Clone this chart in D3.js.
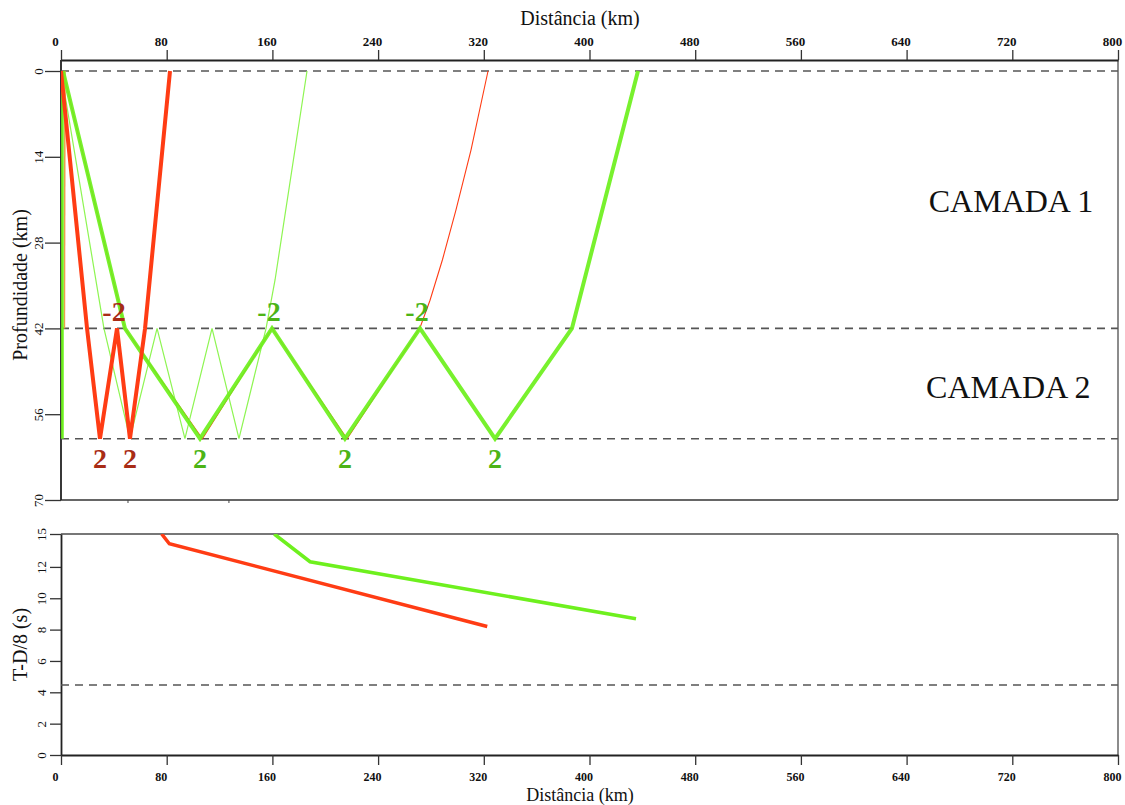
<!DOCTYPE html>
<html>
<head>
<meta charset="utf-8">
<script src="https://cdn.jsdelivr.net/npm/d3@7"></script>
<style>
  body { margin: 0; background: #fff; }
  svg { display: block; font-family: "Liberation Serif", "Times New Roman", serif; }
</style>
</head>
<body>
<svg id="chart" width="1125" height="805"></svg>
<script>
// ---- data -------------------------------------------------------------
const distanceTicks = [0, 80, 160, 240, 320, 400, 480, 560, 640, 720, 800];
const depthTicks = [0, 14, 28, 42, 56, 70];
const timeTicks = [0, 2, 4, 6, 8, 10, 12];
const timeTopLabel = "15";
const timeTop = 14.1;

const interfaceDepths = [0, 42, 60];   // surface, interface, Moho (km)
const referenceTime = 4.47;            // reference line in the T-D/8 panel (s)

const layerNames = ["CAMADA 1", "CAMADA 2"];
const layerLabelX = [719, 717];
const layerLabelDepth = [23.0, 53.4];

// ray paths: [distance km, depth km]
const rayRedThick = [[0, 0], [19.7, 42], [29.5, 60], [42.4, 42], [52.2, 60], [63.6, 42], [82.5, 0]];
const rayGreenThick = [[1.5, 0], [48.4, 42], [105.2, 60], [159.7, 42], [214.9, 60], [271.7, 42], [328.5, 60], [386.7, 42], [436.7, 0]];
const rayGreenThin = [[0, 0], [32.5, 42], [52.2, 60], [72.7, 42], [93.8, 60], [114.3, 42], [134.7, 60], [155.2, 42], [162.0, 34.1], [186.2, 0]];
const rayRedThin = [[1.5, 0], [48.4, 42], [107.0, 60], [159.7, 42], [216.5, 60], [271.5, 42],
  [279.3, 37.4], [288.7, 30.8], [298.9, 22.7], [310.3, 12.9], [323.2, 0]];
const rayGreenVertical = [[1.1, 0], [1.1, 60]];
const rayOrangeVertical = [[3.0, 0], [2.6, 42]];

// phase labels on the reflection points
const phaseLabelX = [42.4, 29.5, 52.2, 105.2, 214.9, 328.5, 159.7, 271.7];
const phaseLabelDepth = [42, 60, 60, 60, 60, 60, 42, 42];
const phaseLabelText = ["-2", "2", "2", "2", "2", "2", "-2", "-2"];
const phaseLabelSeries = ["red", "red", "red", "green", "green", "green", "green", "green"];

// reduced travel times: [distance km, T-D/8 s]
const timeRed = [[76.2, 14.1], [82.0, 13.48], [322.6, 8.2]];
const timeGreen = [[161.4, 14.1], [188.5, 12.33], [435.2, 8.69]];

// short marks on the base line of the depth panel (km)
const baseMarks = [50.7, 127.1];

// ---- styles -----------------------------------------------------------
const colRed = "#ff3c14";
const colGreen = "#6ef01e";
const colGreenThin = "#8ef552";
const colOrange = "#eaa04a";
const labelColor = { red: "#a82c16", green: "#4cb416" };

// ---- layout & scales --------------------------------------------------
const left = 61, right = 1118;
const topA = 60, bottomA = 500;   // depth panel
const topB = 534, bottomB = 755;  // time panel

const svg = d3.select("#chart");
const x = d3.scaleLinear().domain([0, 800]).range([left, right]);
const yD = d3.scaleLinear().domain([0, 70]).range([71, bottomA]);
const yT = d3.scaleLinear().domain([0, timeTop]).range([bottomB, topB]);

const defs = svg.append("defs");
defs.append("clipPath").attr("id", "clipA")
  .append("rect").attr("x", left).attr("y", topA).attr("width", right - left).attr("height", bottomA - topA);
defs.append("clipPath").attr("id", "clipB")
  .append("rect").attr("x", left).attr("y", topB).attr("width", right - left).attr("height", bottomB - topB);

// ---- depth panel ------------------------------------------------------
svg.append("line").attr("x1", right).attr("x2", right).attr("y1", topA).attr("y2", bottomA)
  .attr("stroke", "#666").attr("stroke-width", 1.5);
svg.append("line").attr("x1", left).attr("x2", right).attr("y1", bottomA).attr("y2", bottomA)
  .attr("stroke", "#333").attr("stroke-width", 1.5);
svg.append("line").attr("x1", left).attr("x2", left).attr("y1", topA).attr("y2", bottomA)
  .attr("stroke", "#222").attr("stroke-width", 1.8);
svg.selectAll(".baseMark").data(baseMarks).join("line")
  .attr("x1", d => x(d)).attr("x2", d => x(d)).attr("y1", bottomA).attr("y2", bottomA + 3)
  .attr("stroke", "#444").attr("stroke-width", 1);

// top distance axis
const axTop = svg.append("g").attr("transform", `translate(0,${topA})`)
  .call(d3.axisTop(x).tickValues(distanceTicks).tickSize(10).tickSizeOuter(0).tickPadding(4));
axTop.select(".domain").attr("stroke", "#222").attr("stroke-width", 2);
axTop.selectAll(".tick line").attr("stroke", "#333").attr("stroke-width", 1.3);
axTop.selectAll(".tick text").attr("dx", -6).attr("font-size", 13).attr("font-weight", "bold")
  .attr("font-family", "Liberation Serif, serif").attr("fill", "#111");

// depth axis
const axDepth = svg.append("g").attr("transform", `translate(${left},0)`)
  .call(d3.axisLeft(yD).tickValues(depthTicks).tickSize(16).tickSizeOuter(0));
axDepth.select(".domain").remove();
axDepth.selectAll(".tick line").attr("stroke", "#333").attr("stroke-width", 1.3);
axDepth.selectAll(".tick text")
  .attr("x", null).attr("dy", null)
  .attr("text-anchor", "middle")
  .attr("transform", "translate(-18,0) rotate(-90)")
  .attr("font-size", 13).attr("font-family", "Liberation Serif, serif").attr("fill", "#111");

// interfaces
svg.selectAll(".iface").data(interfaceDepths).join("line")
  .attr("x1", left).attr("x2", right)
  .attr("y1", d => yD(d)).attr("y2", d => yD(d))
  .attr("stroke", "#555").attr("stroke-width", 1.6).attr("stroke-dasharray", "8,6");

// rays
const lineD = d3.line().x(d => x(d[0])).y(d => yD(d[1]));
const gA = svg.append("g").attr("clip-path", "url(#clipA)").attr("fill", "none")
  .attr("stroke-linejoin", "miter").attr("stroke-linecap", "butt");
gA.append("path").attr("d", lineD(rayRedThin)).attr("stroke", colRed).attr("stroke-width", 1.1);
gA.append("path").attr("d", lineD(rayGreenThin)).attr("stroke", colGreenThin).attr("stroke-width", 1.2);
gA.append("path").attr("d", lineD(rayOrangeVertical)).attr("stroke", colOrange).attr("stroke-width", 1.5);
gA.append("path").attr("d", lineD(rayGreenVertical)).attr("stroke", colGreen).attr("stroke-width", 2.6);
gA.append("path").attr("d", lineD(rayGreenThick)).attr("stroke", colGreen).attr("stroke-width", 4)
  .attr("stroke-opacity", 0.93);
gA.append("path").attr("d", lineD(rayRedThick)).attr("stroke", colRed).attr("stroke-width", 4);

// phase labels
svg.selectAll(".phase").data(phaseLabelX).join("text")
  .attr("x", (d, i) => x(d) + (phaseLabelText[i].startsWith("-") ? -3 : 0))
  .attr("y", (d, i) => phaseLabelText[i].startsWith("-") ? yD(phaseLabelDepth[i]) - 7 : yD(phaseLabelDepth[i]) + 29)
  .attr("text-anchor", "middle")
  .attr("font-size", 28).attr("font-weight", "bold")
  .attr("fill", (d, i) => labelColor[phaseLabelSeries[i]])
  .text((d, i) => phaseLabelText[i]);

// layer names
svg.selectAll(".layer").data(layerNames).join("text")
  .attr("x", (d, i) => x(layerLabelX[i]))
  .attr("y", (d, i) => yD(layerLabelDepth[i]))
  .attr("text-anchor", "middle")
  .attr("font-size", 32).attr("fill", "#111")
  .text(d => d);

// titles
svg.append("text").attr("x", 580).attr("y", 25).attr("text-anchor", "middle")
  .attr("font-size", 20).attr("fill", "#111").text("Distância (km)");
svg.append("text").attr("transform", `translate(27,${(topA + bottomA) / 2 + 5}) rotate(-90)`)
  .attr("text-anchor", "middle").attr("font-size", 20).attr("fill", "#111").text("Profundidade (km)");

// ---- travel-time panel ------------------------------------------------
svg.append("line").attr("x1", left).attr("x2", right).attr("y1", topB).attr("y2", topB)
  .attr("stroke", "#777").attr("stroke-width", 2);
svg.append("line").attr("x1", right).attr("x2", right).attr("y1", topB).attr("y2", bottomB)
  .attr("stroke", "#666").attr("stroke-width", 1.5);

const axTime = svg.append("g").attr("transform", `translate(${left},0)`)
  .call(d3.axisLeft(yT).tickValues([...timeTicks, timeTop]).tickSize(11).tickSizeOuter(0)
    .tickFormat(d => d === timeTop ? timeTopLabel : d3.format("d")(d)));
axTime.select(".domain").attr("stroke", "#222").attr("stroke-width", 1.8);
axTime.selectAll(".tick line").attr("stroke", "#333").attr("stroke-width", 1.3);
axTime.selectAll(".tick text")
  .attr("x", null).attr("dy", null)
  .attr("text-anchor", "middle")
  .attr("transform", "translate(-15,0) rotate(-90)")
  .attr("font-size", 13).attr("font-family", "Liberation Serif, serif").attr("fill", "#111");

const axBottom = svg.append("g").attr("transform", `translate(0,${bottomB})`)
  .call(d3.axisBottom(x).tickValues(distanceTicks).tickSize(10).tickSizeOuter(0).tickPadding(7));
axBottom.select(".domain").attr("stroke", "#222").attr("stroke-width", 2);
axBottom.selectAll(".tick line").attr("stroke", "#333").attr("stroke-width", 1.3);
axBottom.selectAll(".tick text").attr("dx", -6).attr("font-size", 12).attr("font-weight", "bold")
  .attr("font-family", "Liberation Serif, serif").attr("fill", "#111");

svg.append("line").attr("x1", left).attr("x2", right)
  .attr("y1", yT(referenceTime)).attr("y2", yT(referenceTime))
  .attr("stroke", "#555").attr("stroke-width", 1.4).attr("stroke-dasharray", "8,6");

const lineT = d3.line().x(d => x(d[0])).y(d => yT(d[1]));
const gB = svg.append("g").attr("clip-path", "url(#clipB)").attr("fill", "none");
gB.append("path").attr("d", lineT(timeGreen)).attr("stroke", colGreen).attr("stroke-width", 3.5);
gB.append("path").attr("d", lineT(timeRed)).attr("stroke", colRed).attr("stroke-width", 3.5);

svg.append("text").attr("x", 580).attr("y", 801).attr("text-anchor", "middle")
  .attr("font-size", 18).attr("fill", "#111").text("Distância (km)");
svg.append("text").attr("transform", `translate(27,${(topB + bottomB) / 2}) rotate(-90)`)
  .attr("text-anchor", "middle").attr("font-size", 20).attr("fill", "#111").text("T-D/8 (s)");
</script>
</body>
</html>
